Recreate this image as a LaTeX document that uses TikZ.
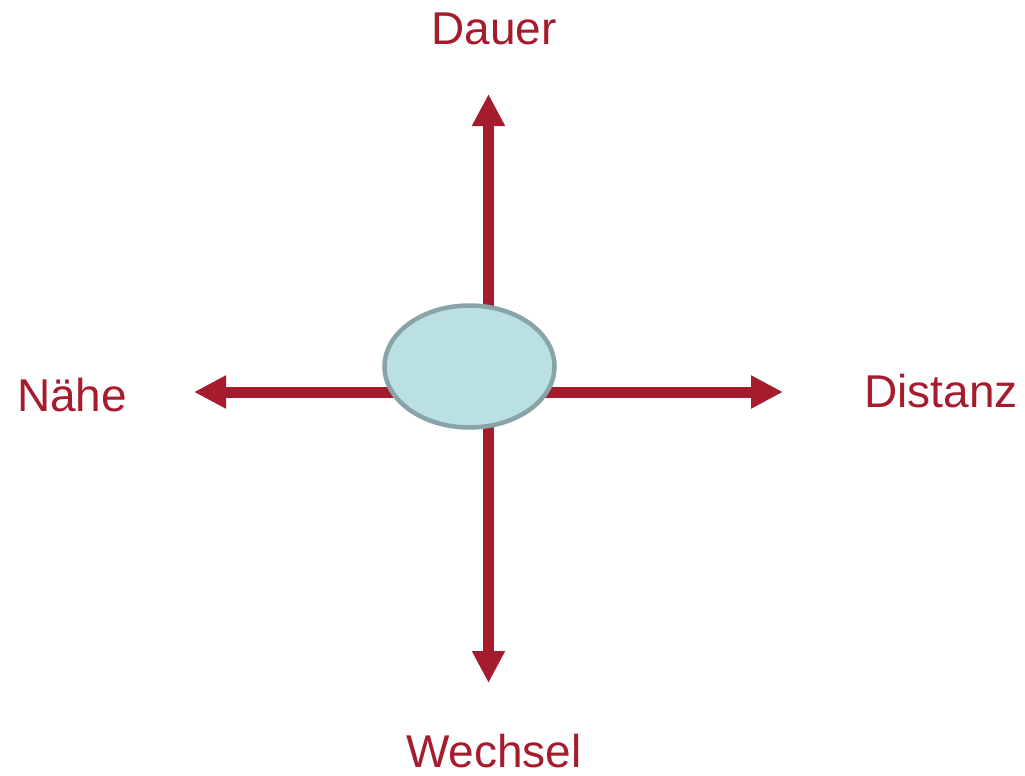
\documentclass[tikz,border=0pt]{standalone}
\usepackage{fontspec}
\setmainfont{Liberation Sans}
\usetikzlibrary{arrows.meta}
\definecolor{axred}{HTML}{A51C2E}
\definecolor{ellfill}{HTML}{BAE0E3}
\definecolor{elldraw}{HTML}{88A4A6}
\tikzset{
  axisline/.style={draw=axred, line width=11pt, {Triangle[length=32pt,width=31pt]}-{Triangle[length=32pt,width=31pt]}},
  lbl/.style={text=axred, inner sep=0pt, anchor=base, font=\fontsize{46pt}{50pt}\selectfont},
  center/.style={ellipse, draw=elldraw, fill=ellfill, line width=4.5pt, minimum width=170pt, minimum height=122pt, inner sep=0pt}
}
\usetikzlibrary{shapes.geometric}
\begin{document}
\begin{tikzpicture}[x=1pt,y=-1pt]
\useasboundingbox (0,0) rectangle (1025,776);
\coordinate (vtop) at (488.5,94);
\coordinate (vbot) at (488.5,683);
\coordinate (hleft) at (194,392);
\coordinate (hright) at (783,392);
\draw[axisline] (vbot) -- (vtop);
\draw[axisline] (hleft) -- (hright);
\node[center] (c) at (469.5,366.5) {};
\node[lbl] (dauer) at (494,45) {Dauer};
\node[lbl] (naehe) at (72,411) {Nähe};
\node[lbl] (distanz) at (941,407) {Distanz};
\node[lbl] (wechsel) at (494,767) {Wechsel};
\end{tikzpicture}
\end{document}
